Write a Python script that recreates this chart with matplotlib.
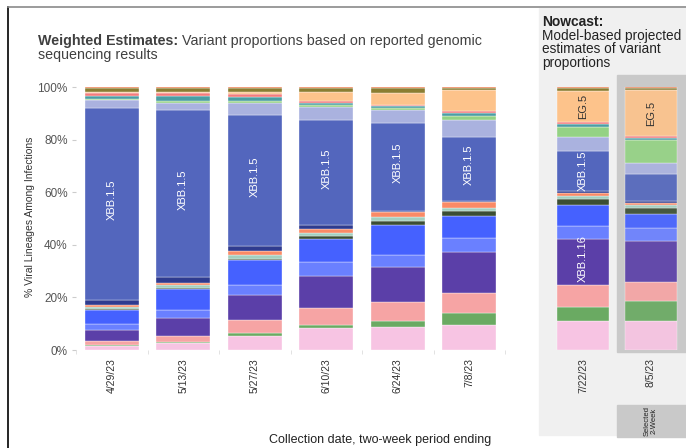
import numpy as np
import matplotlib
matplotlib.use("Agg")
import matplotlib.pyplot as plt
from matplotlib.patches import Rectangle
from matplotlib.lines import Line2D

plt.rcParams['font.family'] = ['Liberation Sans', 'DejaVu Sans']

# two-week periods
weeks = ['4/29/23', '5/13/23', '5/27/23', '6/10/23', '6/24/23', '7/8/23']
nowcast_weeks = ['7/22/23', '8/5/23']

# variant shares (%), bottom to top; last two columns are the nowcast
variants = ['XBB.2.3', 'FL.1.5.1', 'XBB.1.16.6', 'XBB.1.16', 'XBB.1.16.1', 'XBB.1.9.1',
            'GE.1', 'XBB.1.9.2', 'EU.1.1', 'XBB.1.5.68', 'XBB.1.5', 'XBB.1.5.72',
            'FE.1.1', 'XBB.1.42.2', 'CH.1.1', 'EG.5', 'FD.1.1', 'Other']
colors = ['#f7c4e3', '#6aaa62', '#f6a4a4', '#5b3fa8', '#6a80ff', '#4561ff',
          '#3b4e34', '#a3cfc0', '#fa8a66', '#2f3b8f', '#5366bd', '#aab2df',
          '#94d284', '#4b9ea3', '#f47c7c', '#fdc38b', '#8b7d31', '#ea6d3a']

share_xbb23 = [1.5, 2.5, 5.5, 8.2, 8.6, 9.5, 11.0, 11.0]
share_fl151 = [0.5, 0.4, 0.9, 1.4, 2.4, 4.7, 5.5, 7.6]
share_xbb1166 = [1.5, 2.5, 5.2, 6.3, 7.1, 7.3, 8.1, 7.4]
share_xbb116 = [4.0, 6.7, 9.4, 12.4, 13.2, 15.7, 17.5, 15.4]
share_xbb1161 = [2.3, 3.4, 3.8, 5.2, 4.6, 5.5, 5.1, 4.8]
share_xbb191 = [5.5, 8.0, 9.6, 8.9, 11.4, 8.2, 7.7, 5.7]
share_ge1 = [0.4, 0.4, 0.3, 1.1, 1.3, 1.9, 2.5, 2.2]
share_xbb192 = [0.6, 1.0, 1.4, 1.0, 1.5, 1.3, 1.1, 0.9]
share_eu11 = [0.7, 0.8, 1.8, 1.6, 1.9, 2.2, 1.3, 1.0]
share_xbb1568 = [2.0, 2.3, 1.9, 1.5, 0.6, 0.4, 0.6, 0.6]
share_xbb15 = [73.0, 64.1, 49.9, 40.0, 33.3, 24.1, 15.2, 10.4]
share_xbb1572 = [2.8, 2.9, 4.6, 5.0, 4.7, 6.5, 5.2, 4.2]
share_fe11 = [0.6, 0.6, 0.8, 0.7, 0.8, 1.5, 3.8, 8.6]
share_xbb1422 = [1.1, 1.8, 1.5, 0.7, 0.8, 1.5, 1.3, 0.9]
share_ch11 = [1.2, 1.3, 1.2, 0.8, 0.5, 0.5, 0.6, 0.6]
share_eg5 = [0.3, 0.5, 0.6, 3.6, 4.3, 8.0, 11.9, 17.4]
share_fd11 = [1.5, 1.4, 1.5, 1.4, 2.0, 0.8, 1.0, 1.0]
share_other = [0.4, 0.4, 0.5, 0.4, 0.4, 0.4, 0.5, 0.3]

shares = np.array([share_xbb23, share_fl151, share_xbb1166, share_xbb116, share_xbb1161,
                   share_xbb191, share_ge1, share_xbb192, share_eu11, share_xbb1568,
                   share_xbb15, share_xbb1572, share_fe11, share_xbb1422, share_ch11,
                   share_eg5, share_fd11, share_other])
shares = shares / shares.sum(axis=0) * 100

W, H = 686, 448
fig = plt.figure(figsize=(W / 100, H / 100), dpi=100)
fig.patch.set_facecolor('white')

def fx(px):
    return px / W

def fy(py):
    return 1 - py / H

# nowcast panel backgrounds
fig.patches.append(Rectangle((fx(539), fy(435)), fx(686 - 539), (435 - 8) / H,
                             transform=fig.transFigure, color='#f0f0f0', zorder=-2))
fig.patches.append(Rectangle((fx(617), fy(352)), fx(686 - 617), (352 - 75) / H,
                             transform=fig.transFigure, color='#c9c9c9', zorder=-1))
fig.patches.append(Rectangle((fx(617), fy(437)), fx(686 - 617), (437 - 405) / H,
                             transform=fig.transFigure, color='#c9c9c9', zorder=-1))

# frame lines
fig.add_artist(Line2D([fx(8), fx(8)], [fy(7), 0], transform=fig.transFigure, color='black', lw=1.2))
fig.add_artist(Line2D([fx(8), 1], [fy(7), fy(7)], transform=fig.transFigure, color='#8a8a8a', lw=1.2))

ax_bottom = fy(350)
ax_h = (350 - 87) / H

def stack(ax, x, data, alpha=1.0):
    bottom = np.zeros(data.shape[1])
    for i in range(data.shape[0]):
        ax.bar(x, data[i], 0.76, bottom=bottom, color=colors[i], alpha=alpha,
               edgecolor='white', linewidth=0.25)
        bottom += data[i]
    return bottom

def seg_mid(data, col, idx):
    return data[:idx, col].sum() + data[idx, col] / 2

# weighted estimates
ax = fig.add_axes([fx(76), ax_bottom, fx(429), ax_h])
x = np.arange(len(weeks))
main = shares[:, :len(weeks)]
stack(ax, x, main)
ax.set_xlim(-0.49, 5.5)
ax.set_ylim(0, 100)
for s in ax.spines.values():
    s.set_visible(False)
ax.set_yticks([0, 20, 40, 60, 80, 100])
ax.set_yticklabels(['0%', '20%', '40%', '60%', '80%', '100%'], fontsize=8.5, color='#555555')
ax.tick_params(axis='y', length=3, color='#cccccc', pad=3)
ax.set_xticks(x)
ax.set_xticklabels(weeks, rotation=90, fontsize=7.5, color='#333333')
ax.tick_params(axis='x', length=0, pad=6)
ax.set_xticks(np.arange(len(weeks) + 1) - 0.5, minor=True)
ax.tick_params(axis='x', which='minor', length=3, color='#dddddd')
ax.set_facecolor('none')
ix = variants.index('XBB.1.5')
for i in x:
    ax.text(i, seg_mid(main, i, ix) + 1.5, 'XBB.1.5', rotation=90, ha='center', va='center',
            color='white', fontsize=8)

# nowcast
ax2 = fig.add_axes([fx(549), ax_bottom, fx(136), ax_h])
now = shares[:, len(weeks):]
stack(ax2, [0], now[:, :1])
stack(ax2, [1], now[:, 1:], alpha=0.92)
ax2.set_xlim(-0.5, 1.5)
ax2.set_ylim(0, 100)
for s in ax2.spines.values():
    s.set_visible(False)
ax2.set_yticks([])
ax2.set_xticks([0, 1])
ax2.set_xticklabels(nowcast_weeks, rotation=90, fontsize=7.5, color='#333333')
ax2.tick_params(axis='x', length=0, pad=6)
ax2.set_facecolor('none')
ax2.text(0, seg_mid(now, 0, ix), 'XBB.1.5', rotation=90, ha='center', va='center',
         color='white', fontsize=8)
ax2.text(0, seg_mid(now, 0, variants.index('XBB.1.16')) + 1.5, 'XBB.1.16', rotation=90,
         ha='center', va='center', color='white', fontsize=8)
ieg = variants.index('EG.5')
for j in [0, 1]:
    ax2.text(j, seg_mid(now, j, ieg), 'EG.5', rotation=90, ha='center', va='center',
             color='#333333', fontsize=8)

# titles
fig.canvas.draw()
r = fig.canvas.get_renderer()
t1 = fig.text(fx(38), fy(41), 'Weighted Estimates:', fontsize=10.3, weight='bold',
              color='#404040', va='center')
bb = t1.get_window_extent(renderer=r)
fig.text((bb.x1 + 4) / W, fy(41), 'Variant proportions based on reported genomic',
         fontsize=10.3, color='#404040', va='center')
fig.text(fx(38), fy(55), 'sequencing results', fontsize=10.3, color='#404040', va='center')

fig.text(fx(542), fy(22), 'Nowcast:', fontsize=10, weight='bold', color='#222222', va='center')
fig.text(fx(542), fy(29), 'Model-based projected\nestimates of variant\nproportions',
         fontsize=9.8, color='#222222', va='top', linespacing=0.95)

fig.text(fx(651), fy(421), 'Selected\n2-Week', rotation=90, fontsize=5.5, color='#222222',
         ha='center', va='center', linespacing=1.0)

fig.text(fx(30), fy(217), '% Viral Lineages Among Infections', rotation=90, fontsize=7.5,
         color='#333333', ha='center', va='center')
fig.text(fx(380), fy(440), 'Collection date, two-week period ending', fontsize=9,
         color='#222222', ha='center', va='center')

fig.savefig('out.png', dpi=100)
